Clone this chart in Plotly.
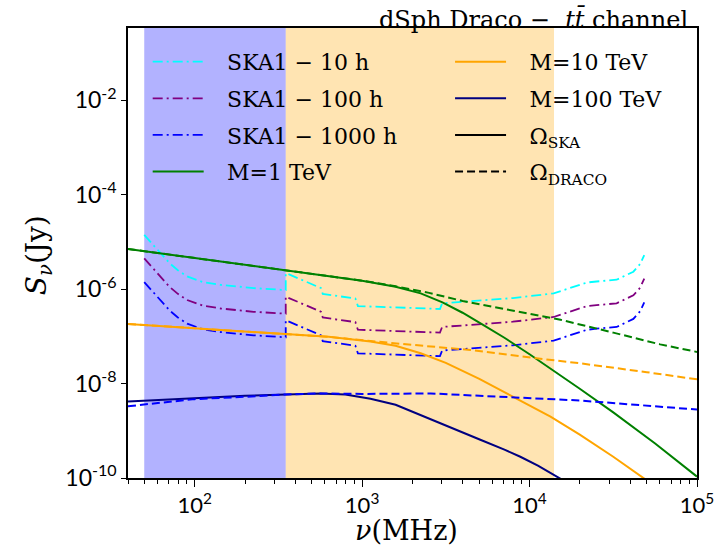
import math
import plotly.graph_objects as go

# ---------------- data ----------------
# SKA1 sensitivity curves (frequency in MHz, flux density in Jy)
freq_ska = [50, 56.2, 63.1, 70.8, 79.4, 90.2, 112, 143, 225, 350, 350, 569, 582,
            912, 944, 2917, 3006, 4436, 7943, 13930, 22030, 25120, 33110, 41690,
            45710, 48420]
S_ska_10h = [1.41e-5, 8.91e-6, 5.50e-6, 3.55e-6, 2.51e-6, 1.86e-6, 1.41e-6, 1.23e-6,
             1.05e-6, 9.55e-7, 2.19e-6, 1.05e-6, 7.94e-7, 6.31e-7, 4.37e-7, 3.80e-7,
             5.01e-7, 5.50e-7, 6.46e-7, 8.13e-7, 1.38e-6, 1.45e-6, 1.58e-6, 2.34e-6,
             3.39e-6, 5.25e-6]
S_ska_100h = [4.47e-6, 2.82e-6, 1.74e-6, 1.12e-6, 7.94e-7, 5.89e-7, 4.47e-7, 3.89e-7,
              3.31e-7, 3.02e-7, 6.92e-7, 3.31e-7, 2.51e-7, 2.00e-7, 1.38e-7, 1.20e-7,
              1.58e-7, 1.74e-7, 2.04e-7, 2.57e-7, 4.37e-7, 4.57e-7, 5.01e-7, 7.41e-7,
              1.07e-6, 1.66e-6]
S_ska_1000h = [1.41e-6, 8.91e-7, 5.50e-7, 3.55e-7, 2.51e-7, 1.86e-7, 1.41e-7, 1.23e-7,
               1.05e-7, 9.55e-8, 2.19e-7, 1.05e-7, 7.94e-8, 6.31e-8, 4.37e-8, 3.80e-8,
               5.01e-8, 5.50e-8, 6.46e-8, 8.13e-8, 1.38e-7, 1.45e-7, 1.58e-7, 2.34e-7,
               3.39e-7, 5.25e-7]

# M = 1 TeV
freq_M1_ska = [40, 100, 350, 631, 1000, 1585, 2239, 3020, 3981, 5248, 7079, 10000,
               13180, 19950, 31620, 56230, 100000]
S_M1_ska = [7.08e-6, 4.57e-6, 2.57e-6, 1.95e-6, 1.51e-6, 1.12e-6, 8.13e-7, 5.25e-7,
            3.16e-7, 1.78e-7, 9.33e-8, 4.17e-8, 2.14e-8, 7.76e-9, 2.45e-9, 5.37e-10,
            1.07e-10]
freq_M1_draco = [40, 100, 350, 631, 1000, 1585, 2512, 3981, 7943, 15310, 31620, 60260,
                 100000]
S_M1_draco = [7.08e-6, 4.57e-6, 2.57e-6, 1.95e-6, 1.51e-6, 1.15e-6, 8.32e-7, 5.62e-7,
              3.47e-7, 2.24e-7, 1.20e-7, 6.76e-8, 4.68e-8]

# M = 10 TeV
freq_M10_ska = [40, 100, 350, 631, 1122, 1585, 2239, 3162, 5012, 8035, 13340, 19950,
                31620, 50120]
S_M10_ska = [1.82e-7, 1.48e-7, 1.15e-7, 9.77e-8, 7.76e-8, 6.31e-8, 4.37e-8, 2.75e-8,
             1.26e-8, 5.25e-9, 2.00e-9, 8.32e-10, 2.82e-10, 8.91e-11]
freq_M10_draco = [40, 100, 350, 631, 1122, 2239, 4436, 12590, 19950, 50120, 100000]
S_M10_draco = [1.82e-7, 1.48e-7, 1.15e-7, 9.77e-8, 7.94e-8, 6.31e-8, 5.13e-8, 3.24e-8,
               2.69e-8, 1.74e-8, 1.23e-8]

# M = 100 TeV
freq_M100_ska = [40, 100, 200, 350, 562, 794, 1122, 1585, 2570, 3548, 5082, 7079, 8810,
                 11220, 14590, 17780]
S_M100_ska = [4.17e-9, 4.90e-9, 5.50e-9, 5.89e-9, 6.17e-9, 5.89e-9, 4.79e-9, 3.55e-9,
              1.78e-9, 1.10e-9, 6.46e-10, 3.98e-10, 2.82e-10, 1.82e-10, 1.07e-10,
              7.08e-11]
freq_M100_draco = [40, 100, 200, 350, 562, 1000, 2570, 10000, 20090, 100000]
S_M100_draco = [3.31e-9, 4.68e-9, 5.25e-9, 5.89e-9, 6.17e-9, 6.03e-9, 6.17e-9, 5.01e-9,
                4.37e-9, 2.82e-9]

# shaded SKA bands (MHz)
band_low = [50, 350]
band_mid = [350, 14000]

# axes
x_min, x_max = 40, 1e5
y_log_min, y_log_max = -10, -0.47
x_tick_vals = [1e2, 1e3, 1e4, 1e5]
x_tick_text = ["10<sup>2</sup>", "10<sup>3</sup>", "10<sup>4</sup>", "10<sup>5</sup>"]
y_tick_vals = [1e-10, 1e-8, 1e-6, 1e-4, 1e-2]
y_tick_text = ["10<sup>-10</sup>", "10<sup>-8</sup>", "10<sup>-6</sup>",
               "10<sup>-4</sup>", "10<sup>-2</sup>"]

# ---------------- figure ----------------
SERIF = "DejaVu Serif"
SANS = "Lato"
DASHDOT = "10px,4px,2px,4px"
DASHED = "8px,4px"
PAD = "\u00a0\u00a0\u2009"

fig = go.Figure()

def add(x, y, name, color, dash=None, width=2.0, legend=None, group=None, show=True):
    fig.add_trace(go.Scatter(
        x=x, y=y, mode="lines", name=PAD + name,
        line=dict(color=color, width=width, dash=dash),
        showlegend=show, legend=legend, legendgroup=group, hoverinfo="skip"))

add(freq_ska, S_ska_10h, "SKA1 − 10 h", "cyan", DASHDOT, 1.8, "legend", "g1")
add(freq_ska, S_ska_100h, "SKA1 − 100 h", "purple", DASHDOT, 1.8, "legend", "g2")
add(freq_ska, S_ska_1000h, "SKA1 − 1000 h", "blue", DASHDOT, 1.8, "legend", "g3")
add(freq_M1_ska, S_M1_ska, "M=1 TeV", "green", None, 2.0, "legend", "g4")
add(freq_M1_draco, S_M1_draco, "M=1 TeV", "green", DASHED, 2.0, "legend", "g4", False)
add(freq_M10_ska, S_M10_ska, "M=10 TeV", "orange", None, 2.0, "legend2", "g5")
add(freq_M10_draco, S_M10_draco, "M=10 TeV", "orange", DASHED, 2.0, "legend2", "g5",
    False)
add(freq_M100_ska, S_M100_ska, "M=100 TeV", "navy", None, 2.0, "legend2", "g6")
add(freq_M100_draco, S_M100_draco, "M=100 TeV", "blue", DASHED, 2.0, "legend2", "g6",
    False)
# legend-only entries for the line styles
add([None], [None], "Ω<sub>SKA</sub>", "black", None, 2.0, "legend2", "g7")
add([None], [None], "Ω<sub>DRACO</sub>", "black", DASHED, 2.0, "legend2", "g8")

legend_common = dict(
    xanchor="left", yanchor="top", bgcolor="rgba(0,0,0,0)", borderwidth=0,
    font=dict(family=SERIF, size=22, color="black"), itemwidth=51,
    tracegroupgap=5, traceorder="grouped")

fig.update_layout(
    width=728, height=546,
    margin=dict(l=128, r=31, t=28, b=68),
    plot_bgcolor="white", paper_bgcolor="white",
    showlegend=True,
    legend=dict(x=0.0346, y=0.9713, **legend_common),
    legend2=dict(x=0.566, y=0.9713, **legend_common),
    shapes=[
        dict(type="rect", xref="x", yref="paper", x0=band_low[0], x1=band_low[1],
             y0=0, y1=1, fillcolor="rgba(0,0,255,0.3)", line=dict(width=0),
             layer="below"),
        dict(type="rect", xref="x", yref="paper", x0=band_mid[0], x1=band_mid[1],
             y0=0, y1=1, fillcolor="rgba(255,165,0,0.3)", line=dict(width=0),
             layer="below"),
    ],
    annotations=[
        dict(text="dSph Draco −  <i>t</i><i>t̄</i> channel", xref="paper", yref="paper",
             x=0.9877, y=1.018, xanchor="right", yanchor="middle", showarrow=False,
             font=dict(family=SERIF, size=24, color="black")),
        dict(text="<i>ν</i>(MHz)", xref="paper", yref="paper", x=0.49, y=-0.117,
             xanchor="center", yanchor="middle", showarrow=False,
             font=dict(family=SERIF, size=27, color="black")),
        dict(text="<i>S</i><sub><i>ν</i></sub>(Jy)", xref="paper", yref="paper",
             x=-0.156, y=0.4956, xanchor="center", yanchor="middle", showarrow=False,
             textangle=-90, font=dict(family=SERIF, size=28, color="black")),
    ],
)

fig.update_xaxes(
    type="log", range=[math.log10(x_min), math.log10(x_max)],
    tickmode="array", tickvals=x_tick_vals, ticktext=x_tick_text,
    ticks="outside", ticklen=7, tickwidth=1.2, tickcolor="black",
    showline=True, linecolor="black", linewidth=1.5, mirror=True,
    showgrid=False, zeroline=False,
    tickfont=dict(family=SANS, size=22, color="black"),
    minor=dict(ticks="outside", ticklen=4, tickwidth=1, tickcolor="black",
               dtick="D1", showgrid=False),
)
fig.update_yaxes(
    type="log", range=[y_log_min, y_log_max],
    tickmode="array", tickvals=y_tick_vals, ticktext=y_tick_text,
    ticks="outside", ticklen=5, tickwidth=1.2, tickcolor="black",
    showline=True, linecolor="black", linewidth=1.5, mirror=True,
    showgrid=False, zeroline=False,
    tickfont=dict(family=SANS, size=23, color="black"),
)

fig.write_html("out.html")
